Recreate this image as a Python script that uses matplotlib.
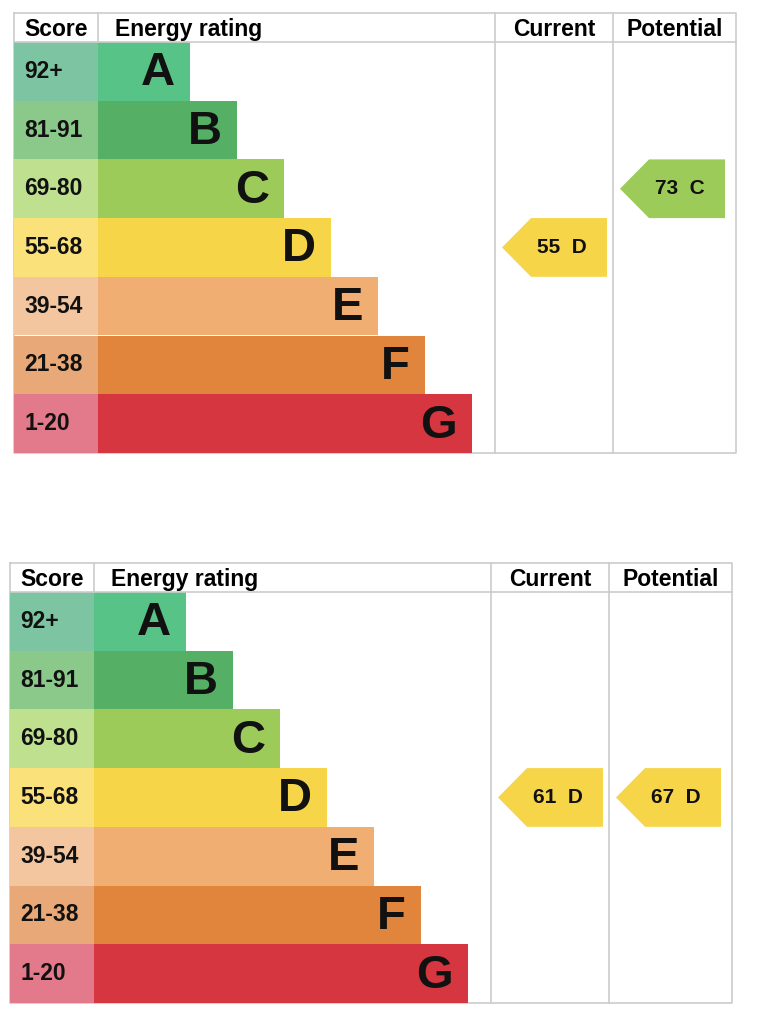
import matplotlib.pyplot as plt
from matplotlib.patches import Rectangle, Polygon

plt.rcParams['font.family'] = ['Liberation Sans', 'DejaVu Sans']

# --- data ---
bands = ["A", "B", "C", "D", "E", "F", "G"]
score_ranges = ["92+", "81-91", "69-80", "55-68", "39-54", "21-38", "1-20"]
band_floor = [92, 81, 69, 55, 39, 21, 1]
bar_colors = ["#58c386", "#55b065", "#9ccb5a", "#f7d548", "#f0ae72", "#e0853b", "#d6363f"]
score_colors = ["#7dc5a2", "#8ac98a", "#bfe08f", "#fbe17a", "#f4c6a0", "#e8a877", "#e37a8b"]

charts = [
    {"current": 55, "potential": 73},
    {"current": 61, "potential": 67},
]

# --- layout in pixels (figure is 767 x 1024) ---
W, H = 767, 1024
origins = [(14, 13), (10, 563)]
header_h = 29
row_h = 58.7
score_w = 84
bar_w0 = 92
bar_step = 47
cur_x, pot_x, right_x = 481, 599, 722  # relative to chart left
arrow_w = 105
arrow_tip = 29
grid = "#cccccc"


def band_of(value):
    for i, floor in enumerate(band_floor):
        if value >= floor:
            return i
    return len(bands) - 1


fig = plt.figure(figsize=(W / 100, H / 100), dpi=100)
ax = fig.add_axes([0, 0, 1, 1])
ax.set_xlim(0, W)
ax.set_ylim(H, 0)
ax.axis("off")

for (x0, y0), chart in zip(origins, charts):
    top = y0 + header_h
    bottom = top + row_h * len(bands)

    for i, band in enumerate(bands):
        y = top + i * row_h
        ax.add_patch(Rectangle((x0, y), score_w, row_h, color=score_colors[i], lw=0))
        bw = bar_w0 + bar_step * i
        ax.add_patch(Rectangle((x0 + score_w, y), bw, row_h, color=bar_colors[i], lw=0))
        ax.text(x0 + 10, y + row_h / 2, score_ranges[i], fontsize=16.5, fontweight="bold",
                va="center", ha="left", color="#111111")
        ax.text(x0 + score_w + bw - 15, y + row_h / 2 + 2, band, fontsize=34,
                fontweight="bold", va="center", ha="right", color="#111111")

    # grid lines
    ax.plot([x0, x0 + right_x, x0 + right_x, x0, x0], [y0, y0, bottom, bottom, y0],
            color=grid, lw=1.2, zorder=0.5)
    ax.plot([x0, x0 + right_x], [top, top], color=grid, lw=1.2)
    for vx in (score_w, cur_x, pot_x):
        ymax = top if vx == score_w else bottom
        ax.plot([x0 + vx, x0 + vx], [y0, ymax], color=grid, lw=1.2)

    # headers
    hy = y0 + 23
    ax.text(x0 + 42, hy, "Score", fontsize=16.5, fontweight="bold", ha="center", va="baseline")
    ax.text(x0 + score_w + 17, hy, "Energy rating", fontsize=16.5, fontweight="bold",
            ha="left", va="baseline")
    ax.text(x0 + (cur_x + pot_x) / 2, hy, "Current", fontsize=16.5, fontweight="bold",
            ha="center", va="baseline")
    ax.text(x0 + (pot_x + right_x) / 2, hy, "Potential", fontsize=16.5, fontweight="bold",
            ha="center", va="baseline")

    # arrows
    for key, col_x in (("current", cur_x), ("potential", pot_x)):
        val = chart[key]
        b = band_of(val)
        y = top + b * row_h
        ax_l = x0 + col_x + 7
        ax_r = ax_l + arrow_w
        pts = [(ax_l, y + row_h / 2), (ax_l + arrow_tip, y), (ax_r, y),
               (ax_r, y + row_h), (ax_l + arrow_tip, y + row_h)]
        ax.add_patch(Polygon(pts, closed=True, color=bar_colors[b], lw=0))
        ax.text(ax_l + 0.57 * arrow_w, y + row_h / 2, f"{val}  {bands[b]}", fontsize=15,
                fontweight="bold", ha="center", va="center", color="#111111")

fig.savefig("out.png", dpi=100)
